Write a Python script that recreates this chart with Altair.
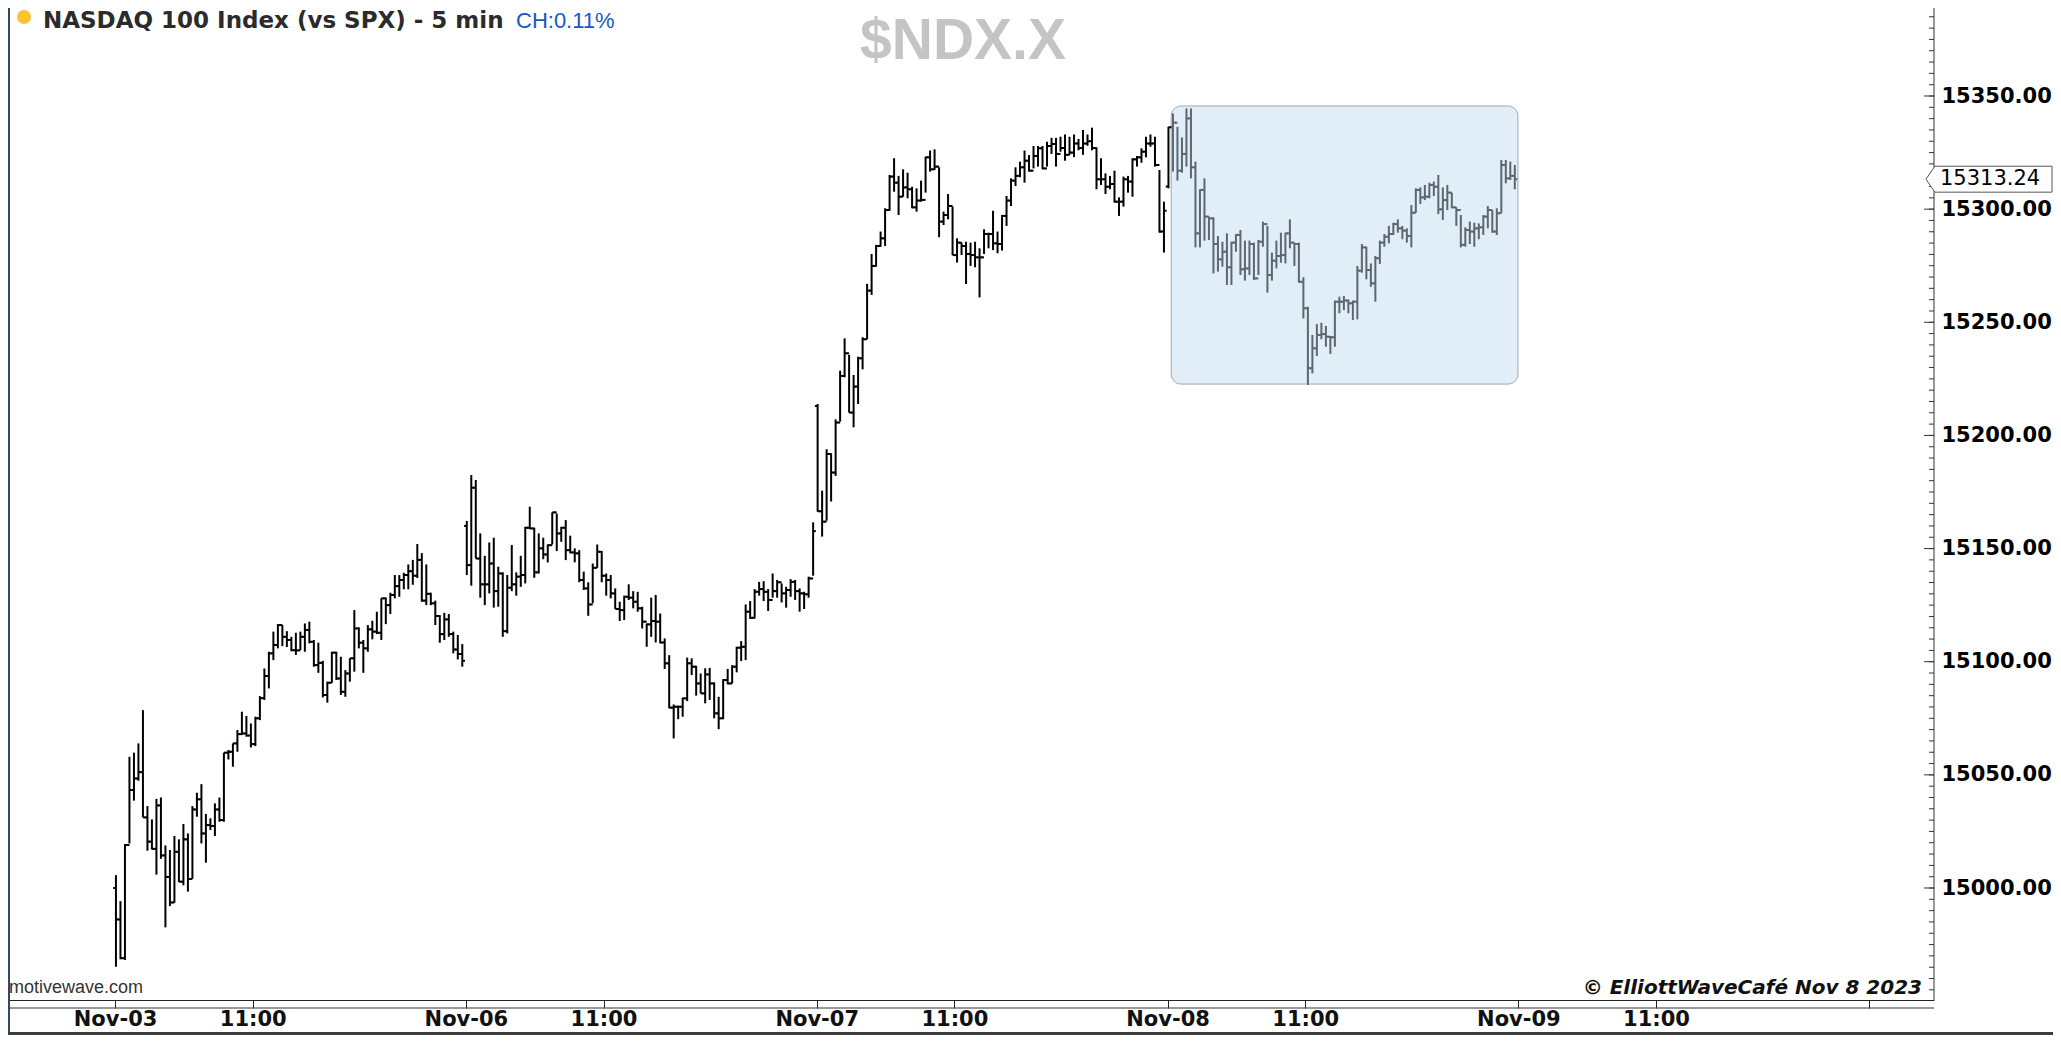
import json
import altair as alt
import pandas as pd

# ---------------- data (5-min OHLC bars, 78 per session, Central time) ----------------
# Nov-03
d1_open = [15000.0, 14986.1, 14969.0, 15019.0, 15043.3, 15048.4, 15051.2, 15031.2, 15020.5, 15017.3,
           15036.5, 15014.4, 15004.9, 14993.6, 15016.0, 15002.8, 15021.5, 15004.0, 15034.7, 15039.2,
           15024.1, 15027.8, 15027.4, 15034.7, 15030.0, 15059.8, 15060.2, 15063.9, 15068.0, 15068.3,
           15067.4, 15063.6, 15075.0, 15083.9, 15093.7, 15103.7, 15107.4, 15116.2, 15111.0, 15109.6,
           15105.1, 15105.0, 15111.0, 15114.0, 15108.8, 15098.5, 15099.5, 15085.3, 15090.7, 15104.0,
           15092.6, 15086.7, 15094.8, 15101.5, 15114.7, 15108.4, 15105.9, 15114.3, 15113.3, 15112.8,
           15128.0, 15125.0, 15129.5, 15133.4, 15136.1, 15138.3, 15140.0, 15138.0, 15145.0, 15127.0,
           15130.0, 15125.8, 15120.2, 15112.2, 15118.7, 15112.2, 15105.4, 15103.4]
d1_high = [15005.7, 14994.2, 15019.4, 15058.0, 15059.8, 15063.9, 15078.6, 15036.2, 15030.3, 15039.4,
           15040.0, 15018.8, 15016.8, 15023.0, 15021.5, 15028.3, 15024.1, 15036.2, 15042.1, 15045.9,
           15032.7, 15030.8, 15037.4, 15040.0, 15059.8, 15061.0, 15063.9, 15069.8, 15077.9, 15076.0,
           15072.7, 15075.7, 15084.8, 15097.0, 15104.4, 15113.3, 15116.6, 15116.2, 15113.5, 15111.0,
           15112.8, 15113.3, 15116.9, 15117.7, 15109.6, 15108.4, 15100.4, 15091.2, 15104.4, 15104.4,
           15102.2, 15096.3, 15101.5, 15122.8, 15115.2, 15109.6, 15116.2, 15118.1, 15122.1, 15128.0,
           15128.4, 15130.5, 15138.3, 15138.3, 15139.3, 15143.0, 15145.0, 15152.0, 15148.0, 15143.0,
           15130.5, 15127.0, 15120.6, 15121.6, 15121.1, 15113.3, 15111.8, 15107.8]
d1_low = [14965.2, 14968.5, 14968.2, 15019.7, 15038.6, 15047.4, 15031.2, 15016.5, 15017.0, 15005.9,
          15012.9, 14982.6, 14992.0, 14993.5, 15002.6, 15001.2, 14998.4, 15004.1, 15031.5, 15019.7,
          15011.2, 15025.6, 15023.0, 15029.3, 15029.3, 15056.8, 15053.6, 15060.2, 15067.6, 15066.9,
          15062.1, 15062.7, 15074.2, 15083.1, 15088.2, 15100.7, 15105.9, 15106.9, 15106.5, 15104.6,
          15103.0, 15105.1, 15104.4, 15108.1, 15097.8, 15095.1, 15084.2, 15081.9, 15090.7, 15091.9,
          15085.3, 15084.5, 15091.2, 15095.6, 15105.9, 15095.1, 15104.4, 15109.9, 15112.2, 15109.6,
          15116.6, 15121.1, 15128.0, 15128.7, 15132.0, 15132.0, 15134.0, 15137.0, 15126.5, 15125.0,
          15125.0, 15116.2, 15108.4, 15109.6, 15111.0, 15103.7, 15101.0, 15097.8]
d1_close = [14986.1, 14969.0, 15019.0, 15043.3, 15048.4, 15051.2, 15031.2, 15020.5, 15017.3, 15036.5,
            15014.4, 15004.9, 14993.6, 15016.0, 15002.8, 15021.5, 15004.0, 15034.7, 15039.2, 15024.1,
            15027.8, 15027.4, 15034.7, 15030.0, 15059.8, 15060.2, 15063.9, 15068.0, 15068.3, 15067.4,
            15063.6, 15075.0, 15083.9, 15093.7, 15103.7, 15107.4, 15116.2, 15111.0, 15109.6, 15105.1,
            15105.0, 15111.0, 15114.0, 15108.8, 15098.5, 15099.5, 15085.3, 15090.7, 15104.0, 15092.6,
            15086.7, 15094.8, 15101.5, 15114.7, 15108.4, 15105.9, 15114.3, 15113.3, 15112.8, 15128.0,
            15125.0, 15129.5, 15133.4, 15136.1, 15138.3, 15140.0, 15138.0, 15145.0, 15127.0, 15130.0,
            15125.8, 15120.2, 15112.2, 15118.7, 15112.2, 15105.4, 15103.4, 15100.4]

# Nov-06
d2_open = [15160.0, 15142.7, 15176.9, 15145.6, 15134.2, 15134.2, 15143.4, 15131.2, 15139.0, 15113.5,
           15132.7, 15134.2, 15137.6, 15138.3, 15159.2, 15158.9, 15139.5, 15150.1, 15147.4, 15151.5,
           15166.0, 15156.7, 15159.2, 15149.3, 15148.3, 15147.9, 15136.1, 15132.4, 15125.3, 15141.5,
           15148.6, 15138.0, 15136.1, 15130.2, 15123.3, 15122.8, 15128.7, 15128.3, 15126.5, 15123.6,
           15117.7, 15116.5, 15118.0, 15117.7, 15108.5, 15099.3, 15079.7, 15080.1, 15080.1, 15083.8,
           15099.3, 15097.8, 15090.4, 15086.0, 15094.4, 15090.4, 15077.2, 15075.0, 15091.9, 15090.4,
           15097.8, 15106.2, 15106.6, 15122.1, 15119.4, 15130.9, 15132.1, 15130.9, 15127.3, 15131.2,
           15135.1, 15130.2, 15131.7, 15135.3, 15131.2, 15130.2, 15129.8, 15136.8]
d2_high = [15162.2, 15182.5, 15180.3, 15156.7, 15146.8, 15152.7, 15154.8, 15142.0, 15139.5, 15138.3,
           15151.6, 15139.5, 15146.8, 15159.6, 15168.5, 15159.2, 15156.7, 15154.8, 15151.8, 15166.0,
           15165.5, 15159.6, 15162.6, 15155.7, 15150.1, 15149.3, 15139.8, 15135.1, 15143.4, 15151.8,
           15148.9, 15139.0, 15138.3, 15132.4, 15126.5, 15129.2, 15134.2, 15131.2, 15130.9, 15124.3,
           15116.9, 15128.3, 15129.5, 15121.3, 15110.3, 15102.9, 15081.1, 15080.6, 15084.1, 15101.8,
           15101.5, 15098.2, 15094.8, 15097.1, 15097.3, 15090.9, 15084.5, 15092.3, 15096.8, 15098.5,
           15106.6, 15109.1, 15125.3, 15126.8, 15132.1, 15135.3, 15135.6, 15132.1, 15139.0, 15136.1,
           15134.6, 15133.1, 15136.5, 15136.1, 15132.4, 15130.9, 15137.6, 15161.6]
d2_low = [15138.3, 15133.6, 15145.6, 15128.3, 15125.0, 15130.2, 15123.9, 15124.3, 15111.0, 15112.5,
          15131.2, 15129.2, 15133.1, 15134.6, 15158.6, 15137.1, 15139.0, 15145.3, 15143.9, 15151.8,
          15148.9, 15153.0, 15144.9, 15147.9, 15143.9, 15135.1, 15131.7, 15120.3, 15125.8, 15141.5,
          15135.1, 15129.2, 15128.0, 15123.3, 15118.0, 15118.4, 15127.3, 15123.6, 15122.1, 15114.7,
          15106.6, 15111.0, 15108.5, 15108.1, 15096.8, 15079.4, 15066.1, 15074.6, 15075.7, 15082.6,
          15094.1, 15085.0, 15086.0, 15081.6, 15083.1, 15075.0, 15070.2, 15074.6, 15090.0, 15090.4,
          15095.3, 15100.3, 15100.7, 15118.9, 15119.1, 15129.2, 15126.8, 15122.4, 15128.3, 15128.3,
          15126.2, 15123.9, 15128.7, 15127.3, 15122.1, 15123.3, 15128.3, 15138.0]
d2_close = [15142.7, 15176.9, 15145.6, 15134.2, 15134.2, 15143.4, 15131.2, 15139.0, 15113.5, 15132.7,
            15134.2, 15137.6, 15138.3, 15159.2, 15158.9, 15139.5, 15150.1, 15147.4, 15151.5, 15166.0,
            15156.7, 15159.2, 15149.3, 15148.3, 15147.9, 15136.1, 15132.4, 15125.3, 15141.5, 15148.6,
            15138.0, 15136.1, 15130.2, 15123.3, 15122.8, 15128.7, 15128.3, 15126.5, 15123.6, 15117.7,
            15116.5, 15118.0, 15117.7, 15108.5, 15099.3, 15079.7, 15080.1, 15080.1, 15083.8, 15099.3,
            15097.8, 15090.4, 15086.0, 15094.4, 15090.4, 15077.2, 15075.0, 15091.9, 15090.4, 15097.8,
            15106.2, 15106.6, 15122.1, 15119.4, 15130.9, 15132.1, 15130.9, 15127.3, 15131.2, 15135.1,
            15130.2, 15131.7, 15135.3, 15131.2, 15130.2, 15129.8, 15136.8, 15157.7]

# Nov-07
d3_open = [15213.0, 15166.5, 15161.9, 15191.8, 15183.6, 15205.7, 15226.3, 15236.3, 15210.1, 15221.6,
           15234.1, 15242.5, 15264.0, 15274.9, 15283.7, 15287.1, 15299.6, 15314.4, 15311.7, 15305.5,
           15309.6, 15308.8, 15300.8, 15303.8, 15304.1, 15322.9, 15317.6, 15318.8, 15294.5, 15297.4,
           15301.4, 15279.7, 15285.2, 15283.7, 15280.2, 15279.7, 15278.7, 15278.7, 15289.0, 15289.0,
           15284.9, 15284.6, 15297.0, 15303.8, 15312.6, 15314.7, 15318.5, 15321.4, 15317.0, 15323.5,
           15326.9, 15318.0, 15327.9, 15328.8, 15324.4, 15327.0, 15324.0, 15325.0, 15329.0, 15327.0,
           15329.0, 15330.0, 15327.0, 15313.2, 15313.2, 15309.9, 15311.1, 15303.3, 15303.3, 15313.2,
           15312.2, 15322.0, 15322.9, 15325.4, 15329.0, 15329.0, 15319.5, 15290.1]
d3_high = [15213.9, 15175.6, 15193.9, 15192.1, 15207.1, 15228.6, 15242.9, 15235.6, 15226.7, 15234.8,
           15243.4, 15267.0, 15280.2, 15284.2, 15290.1, 15300.4, 15315.1, 15322.5, 15314.7, 15317.6,
           15316.1, 15309.9, 15309.2, 15312.6, 15323.2, 15325.9, 15326.4, 15318.5, 15298.9, 15306.7,
           15301.1, 15287.1, 15285.2, 15285.6, 15285.2, 15285.6, 15282.7, 15291.1, 15289.6, 15299.3,
           15290.1, 15297.4, 15305.8, 15313.6, 15318.5, 15321.0, 15325.9, 15323.9, 15327.9, 15327.9,
           15327.9, 15329.8, 15331.5, 15331.5, 15332.0, 15333.0, 15332.0, 15333.0, 15331.0, 15335.0,
           15333.0, 15336.0, 15327.3, 15322.5, 15315.8, 15314.7, 15317.0, 15305.2, 15314.4, 15314.7,
           15322.5, 15323.5, 15326.9, 15332.0, 15333.0, 15332.0, 15317.3, 15303.3]
d3_low = [15166.3, 15155.3, 15162.3, 15170.8, 15182.1, 15206.1, 15225.7, 15210.1, 15203.6, 15213.9,
          15229.2, 15242.5, 15262.1, 15274.6, 15283.4, 15283.7, 15299.3, 15307.7, 15297.4, 15305.5,
          15304.8, 15300.4, 15298.9, 15303.3, 15307.3, 15316.6, 15317.3, 15287.6, 15293.0, 15295.5,
          15279.7, 15276.4, 15279.7, 15266.9, 15274.9, 15274.3, 15261.0, 15280.2, 15282.7, 15281.9,
          15280.5, 15281.7, 15292.6, 15301.4, 15310.2, 15314.1, 15311.7, 15316.6, 15318.0, 15318.8,
          15317.6, 15318.8, 15324.4, 15318.8, 15325.4, 15321.4, 15324.0, 15323.0, 15326.0, 15324.0,
          15328.0, 15326.0, 15308.8, 15310.7, 15306.7, 15308.8, 15302.9, 15297.0, 15301.1, 15307.3,
          15305.5, 15318.8, 15320.5, 15322.9, 15327.6, 15318.8, 15289.6, 15280.8]
d3_close = [15166.5, 15161.9, 15191.8, 15183.6, 15205.7, 15226.3, 15236.3, 15210.1, 15221.6, 15234.1,
            15242.5, 15264.0, 15274.9, 15283.7, 15287.1, 15299.6, 15314.4, 15311.7, 15305.5, 15309.6,
            15308.8, 15300.8, 15303.8, 15304.1, 15322.9, 15317.6, 15318.8, 15294.5, 15297.4, 15301.4,
            15279.7, 15285.2, 15283.7, 15280.2, 15279.7, 15278.7, 15278.7, 15289.0, 15289.0, 15284.9,
            15284.6, 15297.0, 15303.8, 15312.6, 15314.7, 15318.5, 15321.4, 15317.0, 15323.5, 15326.9,
            15318.0, 15327.9, 15328.8, 15324.4, 15327.0, 15324.0, 15325.0, 15329.0, 15327.0, 15329.0,
            15330.0, 15327.0, 15313.2, 15313.2, 15309.9, 15311.1, 15303.3, 15303.3, 15313.2, 15312.2,
            15322.0, 15322.9, 15325.4, 15329.0, 15329.0, 15319.5, 15290.1, 15299.3]

# Nov-08
d4_open = [15310.0, 15336.2, 15338.2, 15317.0, 15324.4, 15340.1, 15318.5, 15289.3, 15308.5, 15296.7,
           15295.9, 15284.6, 15277.8, 15281.2, 15274.3, 15285.2, 15288.6, 15273.4, 15273.8, 15284.6,
           15269.4, 15285.6, 15293.4, 15270.9, 15277.2, 15279.3, 15279.7, 15289.3, 15285.2, 15284.6,
           15267.9, 15256.2, 15229.7, 15238.5, 15244.4, 15244.8, 15243.6, 15243.4, 15259.1, 15259.1,
           15259.6, 15258.4, 15259.1, 15272.8, 15283.1, 15273.1, 15267.2, 15278.3, 15285.2, 15287.8,
           15289.0, 15293.4, 15291.5, 15290.5, 15288.1, 15298.4, 15308.5, 15305.2, 15305.5, 15310.7,
           15309.9, 15299.9, 15304.0, 15307.3, 15300.8, 15299.6, 15284.2, 15290.8, 15290.1, 15291.5,
           15292.0, 15296.7, 15299.6, 15290.1, 15298.2, 15319.5, 15313.6, 15314.7]
d4_high = [15336.4, 15342.3, 15336.4, 15331.7, 15344.5, 15344.5, 15321.0, 15308.8, 15313.6, 15296.7,
           15296.4, 15288.1, 15285.6, 15289.3, 15285.6, 15289.0, 15290.8, 15286.1, 15286.1, 15285.2,
           15286.4, 15294.5, 15292.6, 15280.8, 15286.1, 15289.6, 15289.6, 15295.5, 15285.2, 15285.2,
           15269.9, 15256.9, 15244.4, 15249.2, 15249.8, 15248.4, 15243.9, 15259.6, 15261.3, 15261.6,
           15260.1, 15259.6, 15274.9, 15284.6, 15283.4, 15276.0, 15279.3, 15286.1, 15289.0, 15292.6,
           15294.0, 15295.5, 15292.6, 15291.5, 15301.8, 15309.2, 15309.6, 15310.7, 15311.7, 15312.2,
           15315.1, 15309.6, 15310.7, 15307.3, 15300.8, 15297.4, 15292.0, 15294.5, 15294.0, 15293.7,
           15297.4, 15301.4, 15299.6, 15300.4, 15321.7, 15321.7, 15321.0, 15319.5]
d4_low = [15309.2, 15316.6, 15312.6, 15316.1, 15318.8, 15313.6, 15283.1, 15283.1, 15286.1, 15286.4,
          15271.6, 15272.4, 15274.6, 15266.5, 15266.5, 15281.2, 15270.9, 15268.4, 15270.9, 15268.7,
          15270.9, 15283.4, 15263.1, 15268.4, 15273.8, 15276.3, 15276.0, 15282.7, 15274.9, 15267.5,
          15251.7, 15222.3, 15227.4, 15235.1, 15242.5, 15239.2, 15236.0, 15239.2, 15254.0, 15255.4,
          15254.0, 15251.0, 15251.3, 15271.9, 15269.0, 15265.7, 15259.1, 15275.8, 15283.4, 15284.9,
          15288.6, 15289.6, 15286.7, 15285.2, 15283.1, 15298.4, 15302.3, 15304.0, 15304.8, 15305.8,
          15297.8, 15295.2, 15299.6, 15300.4, 15292.6, 15283.1, 15283.4, 15284.6, 15283.4, 15286.7,
          15288.6, 15291.5, 15289.6, 15288.6, 15298.2, 15311.4, 15312.9, 15308.8]
d4_close = [15336.2, 15338.2, 15317.0, 15324.4, 15340.1, 15318.5, 15289.3, 15308.5, 15296.7, 15295.9,
            15284.6, 15277.8, 15281.2, 15274.3, 15285.2, 15288.6, 15273.4, 15273.8, 15284.6, 15269.4,
            15285.6, 15293.4, 15270.9, 15277.2, 15279.3, 15279.7, 15289.3, 15285.2, 15284.6, 15267.9,
            15256.2, 15229.7, 15238.5, 15244.4, 15244.8, 15243.6, 15243.4, 15259.1, 15259.1, 15259.6,
            15258.4, 15259.1, 15272.8, 15283.1, 15273.1, 15267.2, 15278.3, 15285.2, 15287.8, 15289.0,
            15293.4, 15291.5, 15290.5, 15288.1, 15298.4, 15308.5, 15305.2, 15305.5, 15310.7, 15309.9,
            15299.9, 15304.0, 15307.3, 15300.8, 15299.6, 15284.2, 15290.8, 15290.1, 15291.5, 15292.0,
            15296.7, 15299.6, 15290.1, 15298.2, 15319.5, 15313.6, 15314.7, 15313.24]

# axis ticks / labels
x_tick_pos = [-0.2, 30.4, 77.8, 108.4, 155.8, 186.4, 233.8, 264.4, 311.8, 342.4, 389.8]
x_tick_text = ["Nov-03", "11:00", "Nov-06", "11:00", "Nov-07", "11:00",
               "Nov-08", "11:00", "Nov-09", "11:00", ""]
y_label_vals = [15000, 15050, 15100, 15150, 15200, 15250, 15300, 15350]
ruler_vals = [14955 + 5 * k for k in range(87)]

# highlight box (bar index / price)
box_x = [234.6]
box_x2 = [311.7]
box_top = [15345.6]
box_bottom = [15222.7]
box_first_bar = 234

last_price = [15313.24]
last_label = ["15313.24"]

# ---------------- layout ----------------
W, H = 1926, 992
PAD_R, PAD_B = 119, 35
PX_PER_PT = 2.26286
Y_TOP = 15388.89
Y_BOT = Y_TOP - H / PX_PER_PT
X_LO, X_HI = -24.0, 404.2

BAR_COL = "#000000"
BOX_BAR_COL = "#5c6770"

opens = d1_open + d2_open + d3_open + d4_open
highs = d1_high + d2_high + d3_high + d4_high
lows = d1_low + d2_low + d3_low + d4_low
closes = d1_close + d2_close + d3_close + d4_close

df = pd.DataFrame({
    "idx": list(range(len(highs))),
    "open": opens, "high": highs, "low": lows, "close": closes,
})

xs = alt.Scale(domain=[X_LO, X_HI], nice=False, zero=False)
ys = alt.Scale(domain=[Y_BOT, Y_TOP], nice=False, zero=False)

label_expr = f"{json.dumps(x_tick_text)}[indexof({json.dumps(x_tick_pos)}, datum.value)]"

x_axis = alt.Axis(values=x_tick_pos, labelExpr=label_expr, title=None, grid=False,
                  tickSize=8, tickColor="#222222", tickWidth=1, domainColor="#222222",
                  domainWidth=1, labelFont="DejaVu Sans", labelFontWeight="bold",
                  labelFontSize=21, labelColor="#111111", labelPadding=0,
                  labelFlush=False, labelOverlap=False, labelBound=False)
y_axis = alt.Axis(orient="right", values=y_label_vals, format=".2f", title=None, grid=False,
                  ticks=False, domain=False, labelFont="DejaVu Sans", labelFontWeight="bold",
                  labelFontSize=21, labelPadding=7, labelColor="#000000", labelFlush=False,
                  labelOverlap=False)


def X(field):
    return alt.X(field, scale=xs, axis=x_axis)


def Y(field):
    return alt.Y(field, scale=ys, axis=y_axis)


bar_color = alt.condition(alt.datum.idx > box_first_bar, alt.value(BOX_BAR_COL), alt.value(BAR_COL))

box_df = pd.DataFrame({"x": box_x, "x2": box_x2, "y": box_top, "y2": box_bottom})
box = alt.Chart(box_df).mark_rect(cornerRadius=10, fill="#e1edf7", stroke="#9fa9b3",
                                  strokeWidth=1).encode(
    x=X("x:Q"), x2="x2:Q", y=Y("y:Q"), y2="y2:Q",
)

base = alt.Chart(df)
hl = base.mark_rule(strokeWidth=2).encode(
    x=X("idx:Q"), y=Y("low:Q"), y2="high:Q", color=bar_color,
)
open_tick = base.transform_calculate(xo="datum.idx - 0.6").mark_rule(strokeWidth=2).encode(
    x=X("xo:Q"), x2="idx:Q", y=Y("open:Q"), color=bar_color,
)
close_tick = base.transform_calculate(xc="datum.idx + 0.6").mark_rule(strokeWidth=2).encode(
    x=X("idx:Q"), x2="xc:Q", y=Y("close:Q"), color=bar_color,
)

# right-hand price ruler (ticks inside the plot edge)
ruler_df = pd.DataFrame({"p": ruler_vals})
major_df = pd.DataFrame({"p": y_label_vals})
ruler_minor = alt.Chart(ruler_df).mark_rule(color="#333333", strokeWidth=1).encode(
    y=Y("p:Q"), x=alt.value(W - 5), x2=alt.value(W))
ruler_major = alt.Chart(major_df).mark_rule(color="#333333", strokeWidth=1).encode(
    y=Y("p:Q"), x=alt.value(W - 10), x2=alt.value(W))
one = pd.DataFrame({"a": [0]})
axis_line = alt.Chart(one).mark_rule(color="#333333", strokeWidth=1).encode(
    x=alt.value(W), y=alt.value(0), y2=alt.value(H))
axis_line2 = alt.Chart(one).mark_rule(color="#333333", strokeWidth=1).encode(
    x=alt.value(0), x2=alt.value(W), y=alt.value(H + 8))
left_border = alt.Chart(one).mark_rule(color="#34495e", strokeWidth=2).encode(
    x=alt.value(1), y=alt.value(0), y2=alt.value(H + PAD_B))
bottom_band = alt.Chart(one).mark_rule(color="#3d3d3d", strokeWidth=3).encode(
    x=alt.value(0), x2=alt.value(W + PAD_R), y=alt.value(H + PAD_B - 1.5))

# last-price tag
tag_df = pd.DataFrame({"p": last_price, "t": last_label})
tag_shape = "M-1,0L-0.86,-0.206L1,-0.206L1,0.206L-0.86,0.206Z"
tag_box = alt.Chart(tag_df).mark_point(shape=tag_shape, size=126 * 126, fill="white",
                                       stroke="#555555", strokeWidth=1, opacity=1,
                                       fillOpacity=1).encode(
    x=alt.value(W + 55), y=Y("p:Q"))
tag_text = alt.Chart(tag_df).mark_text(align="left", baseline="middle", font="DejaVu Sans",
                                       fontSize=21, color="#000000").encode(
    x=alt.value(W + 6), y=Y("p:Q"), text="t:N")


def label(txt, x, y, **kw):
    return alt.Chart(pd.DataFrame({"t": [txt]})).mark_text(**kw).encode(
        x=alt.value(x), y=alt.value(y), text="t:N")


dot = alt.Chart(one).mark_point(
    shape="circle", filled=True, size=200, color="#fbc531", opacity=1).encode(
    x=alt.value(16), y=alt.value(9))
title = label("NASDAQ 100 Index (vs SPX) - 5 min", 35, 13, align="left", baseline="middle",
              font="DejaVu Sans", fontWeight="bold", fontSize=23, color="#2b2b2b")
change = label("CH:0.11%", 508, 12.5, align="left", baseline="middle", font="Liberation Sans",
               fontSize=22, color="#1a56c8")
symbol = label("$NDX.X", 955, 34, align="center", baseline="middle", font="Liberation Sans",
               fontWeight="bold", fontSize=57, color="#c4c4c4")
source = label("motivewave.com", 1, 980, align="left", baseline="middle", font="Liberation Sans",
               fontSize=18, color="#333333")
credit = label("© ElliottWaveCafé Nov 8 2023", 1914, 980, align="right", baseline="middle",
               font="DejaVu Sans", fontWeight="bold", fontStyle="italic", fontSize=20,
               color="#111111")

chart = alt.layer(
    box, hl, open_tick, close_tick,
    ruler_minor, ruler_major, axis_line, axis_line2, left_border, bottom_band,
    tag_box, tag_text, dot, title, change, symbol, source, credit,
).properties(
    width=W, height=H,
    autosize=alt.AutoSizeParams(type="none"),
    padding={"left": 0, "top": 0, "right": PAD_R, "bottom": PAD_B},
    background="white",
).configure_view(stroke=None)

chart.save("out.html", embed_options={"renderer": "svg", "actions": False})
